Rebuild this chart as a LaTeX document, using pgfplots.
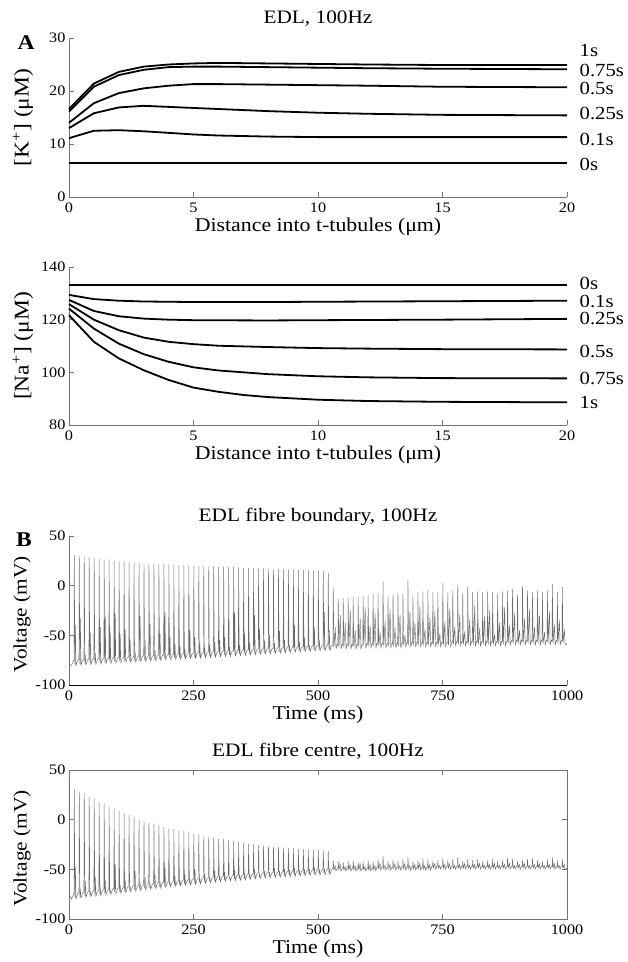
\documentclass[border=0pt]{standalone}
\usepackage{fontspec}
\setmainfont{Liberation Serif}[FakeStretch=1.12]
\usepackage{pgfplots}
\pgfplotsset{compat=1.18}
\definecolor{axgray}{gray}{0.45}
\definecolor{trace}{gray}{0.42}
\tikzset{rl/.style={anchor=west, inner sep=0pt, xshift=12.5pt, font=\fontsize{18.5}{18.5}\selectfont}}
\pgfplotsset{
  base/.style={scale only axis, width=498pt, anchor=south west, clip=false,
    axis line style={axgray, line width=0.6pt, -},
    tick style={axgray, line width=0.6pt},
    major tick length=5pt, tick align=inside,
    tick label style={font=\fontsize{14.5}{14.5}\selectfont, text=black},
    xticklabel style={yshift=-2.5pt},
    every axis title/.style={at={(axis description cs:0.5,1)}, anchor=center, yshift=19pt, font=\fontsize{19}{19}\selectfont},
    every axis x label/.style={at={(axis description cs:0.5,0)}, anchor=center, yshift=-30pt, font=\fontsize{19.5}{19.5}\selectfont},
    every axis y label/.style={at={(axis description cs:-0.0924,0.5)}, anchor=center, rotate=90, font=\fontsize{21}{21}\selectfont},
  },
  conc/.style={base, axis x line*=bottom, axis y line*=left, xmin=0, xmax=20,
    xtick={0,5,10,15,20}, xticklabels={0,5,10,15,20},
    xlabel={Distance into t-tubules (μm)}},
  volt/.style={base, xmin=0, xmax=1000, ymin=-100, ymax=50,
    xtick={0,250,500,750,1000}, xticklabels={0,250,500,750,1000},
    ytick={-100,-50,0,50}, yticklabels={-100,-50,0,50},
    ylabel={Voltage (mV)}, xlabel={Time (ms)},
    every axis y label/.style={at={(axis description cs:-0.0944,0.5)}, anchor=center, yshift=-4pt, rotate=90, font=\fontsize{19}{19}\selectfont}},
  curve/.style={black, line width=1.8pt, line join=round},
  tr/.style={trace, line width=0.45pt, line join=round},
}
\begin{document}
\begin{tikzpicture}
\useasboundingbox (0pt,0pt) rectangle (628pt,962pt);

% ---------- A: K+ ----------
\begin{axis}[conc, at={(69pt,765pt)}, height=159pt, ymin=0, ymax=30,
  ytick={0,10,20,30}, yticklabels={0,10,20,30},
  ylabel={[K\textsuperscript{+}] (μM)}, title={EDL, 100Hz}]
\addplot[curve] coordinates {(0,6.4) (20,6.4)};
\addplot[curve] coordinates {(0,11.1) (1,12.5) (2,12.6) (3,12.4) (4,12.1) (5,11.8) (6,11.6) (8,11.4) (10,11.3) (12,11.3) (15,11.3) (20,11.3)};
\addplot[curve] coordinates {(0,13.0) (1,15.8) (2,16.9) (3,17.2) (4,17.0) (5,16.8) (6,16.6) (8,16.2) (10,15.9) (12,15.7) (15,15.5) (20,15.4)};
\addplot[curve] coordinates {(0,14.0) (1,17.7) (2,19.6) (3,20.5) (4,21.0) (5,21.3) (6,21.3) (8,21.2) (10,21.1) (12,21.0) (15,20.8) (20,20.7)};
\addplot[curve] coordinates {(0,16.1) (1,20.8) (2,23.0) (3,24.0) (4,24.5) (5,24.6) (6,24.6) (8,24.5) (10,24.4) (12,24.3) (15,24.2) (20,24.1)};
\addplot[curve] coordinates {(0,16.6) (1,21.4) (2,23.6) (3,24.6) (4,25.0) (5,25.2) (6,25.3) (8,25.2) (10,25.1) (12,25.0) (15,24.9) (20,24.9)};
\node[rl] at (axis cs:20,27.6) {1s};
\node[rl] at (axis cs:20,23.9) {0.75s};
\node[rl] at (axis cs:20,20.4) {0.5s};
\node[rl] at (axis cs:20,15.85) {0.25s};
\node[rl] at (axis cs:20,10.9) {0.1s};
\node[rl] at (axis cs:20,6.2) {0s};
\end{axis}

% ---------- Na+ ----------
\begin{axis}[conc, at={(69pt,537pt)}, height=158pt, ymin=80, ymax=140,
  ytick={80,100,120,140}, yticklabels={80,100,120,140},
  ylabel={[Na\textsuperscript{+}] (μM)}]
\addplot[curve] coordinates {(0,133.3) (20,133.3)};
\addplot[curve] coordinates {(0,129.4) (1,127.8) (2,127.2) (3,126.9) (5,126.7) (8,126.7) (10,126.8) (15,127.0) (20,127.2)};
\addplot[curve] coordinates {(0,127.5) (1,123.3) (2,121.3) (3,120.4) (4,120.0) (5,119.8) (8,119.7) (10,119.8) (15,120.0) (20,120.3)};
\addplot[curve] coordinates {(0,125.9) (1,120.0) (2,116.0) (3,113.2) (4,111.6) (5,110.7) (6,110.1) (8,109.6) (10,109.2) (12,109.0) (15,108.8) (20,108.7)};
\addplot[curve] coordinates {(0,124.2) (1,116.6) (2,110.9) (3,106.9) (4,104.0) (5,101.9) (6,100.7) (8,99.3) (10,98.5) (12,98.1) (15,97.8) (20,97.7)};
\addplot[curve] coordinates {(0,121.7) (1,111.6) (2,105.3) (3,100.8) (4,97.1) (5,94.2) (6,92.6) (7,91.4) (8,90.6) (10,89.6) (12,89.1) (15,88.8) (20,88.6)};
\node[rl] at (axis cs:20,133.9) {0s};
\node[rl] at (axis cs:20,127.0) {0.1s};
\node[rl] at (axis cs:20,120.4) {0.25s};
\node[rl] at (axis cs:20,107.8) {0.5s};
\node[rl] at (axis cs:20,97.7) {0.75s};
\node[rl] at (axis cs:20,88.6) {1s};
\end{axis}

% ---------- B: fibre boundary ----------
\begin{axis}[volt, at={(69pt,277pt)}, height=149pt,
  axis x line*=bottom, axis y line*=left,
  x axis line style={black, line width=0.8pt},
  title={EDL fibre boundary, 100Hz}]
\addplot[tr] table[row sep=\\]{t v\\
0 -72\\ 2 -80.5\\ 5 -80\\
10 -74.7\\ 10.6 30.5\\ 11.8 -78.7\\ 12.8 -40\\ 14 -80.7\\ 17 -75.7\\
20 -74.4\\ 20.6 30.2\\ 21.8 -78.4\\ 22.8 -33\\ 24 -80.4\\ 27 -75.4\\
30 -74.1\\ 30.6 29.2\\ 31.8 -78.1\\ 32.8 -70\\ 34 -80.1\\ 37 -75.1\\
40 -73.8\\ 40.6 28.5\\ 41.8 -77.8\\ 42.8 -48\\ 44 -79.8\\ 47 -74.8\\
50 -73.5\\ 50.6 27.9\\ 51.8 -77.5\\ 52.8 -68\\ 54 -79.5\\ 57 -74.5\\
60 -73.2\\ 60.6 26.8\\ 61.8 -77.2\\ 62.8 -42\\ 64 -79.2\\ 67 -74.2\\
70 -72.9\\ 70.6 26.2\\ 71.8 -76.9\\ 72.8 -31\\ 74 -78.9\\ 77 -73.9\\
80 -72.6\\ 80.6 25.8\\ 81.8 -76.6\\ 82.8 -47\\ 84 -78.6\\ 87 -73.6\\
90 -72.3\\ 90.6 25.2\\ 91.8 -76.3\\ 92.8 -28\\ 94 -78.3\\ 97 -73.3\\
100 -72.0\\ 100.6 24.5\\ 101.8 -76.0\\ 102.8 -49\\ 104 -78.0\\ 107 -73.0\\
110 -71.7\\ 110.6 24.2\\ 111.8 -75.7\\ 112.8 -44\\ 114 -77.7\\ 117 -72.7\\
120 -71.4\\ 120.6 23.5\\ 121.8 -75.4\\ 122.8 -55\\ 124 -77.4\\ 127 -72.4\\
130 -71.1\\ 130.6 23.5\\ 131.8 -75.1\\ 132.8 -66\\ 134 -77.1\\ 137 -72.1\\
140 -70.8\\ 140.6 22.8\\ 141.8 -74.8\\ 142.8 -31\\ 144 -76.8\\ 147 -71.8\\
150 -70.5\\ 150.6 22.5\\ 151.8 -74.5\\ 152.8 -55\\ 154 -76.5\\ 157 -71.5\\
160 -70.2\\ 160.6 22.1\\ 161.8 -74.2\\ 162.8 -39\\ 164 -76.2\\ 167 -71.2\\
170 -69.9\\ 170.6 21.8\\ 171.8 -73.9\\ 172.8 -65\\ 174 -75.9\\ 177 -70.9\\
180 -69.6\\ 180.6 21.8\\ 181.8 -73.6\\ 182.8 -49\\ 184 -75.6\\ 187 -70.6\\
190 -69.3\\ 190.6 21.5\\ 191.8 -73.3\\ 192.8 -27\\ 194 -75.3\\ 197 -70.3\\
200 -69.0\\ 200.6 21.1\\ 201.8 -73.0\\ 202.8 -52\\ 204 -75.0\\ 207 -70.0\\
210 -68.7\\ 210.6 20.8\\ 211.8 -72.7\\ 212.8 -59\\ 214 -74.7\\ 217 -69.7\\
220 -68.4\\ 220.6 20.8\\ 221.8 -72.4\\ 222.8 -61\\ 224 -74.4\\ 227 -69.4\\
230 -68.1\\ 230.6 20.5\\ 231.8 -72.1\\ 232.8 -64\\ 234 -74.1\\ 237 -69.1\\
240 -67.8\\ 240.6 20.1\\ 241.8 -71.8\\ 242.8 -45\\ 244 -73.8\\ 247 -68.8\\
250 -67.5\\ 250.6 20.1\\ 251.8 -71.5\\ 252.8 -52\\ 254 -73.5\\ 257 -68.5\\
260 -67.2\\ 260.6 19.8\\ 261.8 -71.2\\ 262.8 -59\\ 264 -73.2\\ 267 -68.2\\
270 -66.9\\ 270.6 19.8\\ 271.8 -70.9\\ 272.8 -63\\ 274 -72.9\\ 277 -67.9\\
280 -66.6\\ 280.6 19.5\\ 281.8 -70.6\\ 282.8 -60\\ 284 -72.6\\ 287 -67.6\\
290 -66.3\\ 290.6 19.1\\ 291.8 -70.3\\ 292.8 -57\\ 294 -72.3\\ 297 -67.3\\
300 -66.0\\ 300.6 19.1\\ 301.8 -70.0\\ 302.8 -55\\ 304 -72.0\\ 307 -67.0\\
310 -65.7\\ 310.6 18.8\\ 311.8 -69.7\\ 312.8 -52\\ 314 -71.7\\ 317 -66.7\\
320 -65.4\\ 320.6 18.5\\ 321.8 -69.4\\ 322.8 -62\\ 324 -71.4\\ 327 -66.4\\
330 -65.1\\ 330.6 18.5\\ 331.8 -69.1\\ 332.8 -27\\ 334 -71.1\\ 337 -66.1\\
340 -64.8\\ 340.6 18.1\\ 341.8 -68.8\\ 342.8 -60\\ 344 -70.8\\ 347 -65.8\\
350 -64.5\\ 350.6 17.8\\ 351.8 -68.5\\ 352.8 -49\\ 354 -70.5\\ 357 -65.5\\
360 -64.2\\ 360.6 17.8\\ 361.8 -68.2\\ 362.8 -58\\ 364 -70.2\\ 367 -65.2\\
370 -63.9\\ 370.6 17.4\\ 371.8 -67.9\\ 372.8 -30\\ 374 -69.9\\ 377 -64.9\\
380 -63.6\\ 380.6 17.4\\ 381.8 -67.6\\ 382.8 -44\\ 384 -69.6\\ 387 -64.6\\
390 -63.3\\ 390.6 17.2\\ 391.8 -67.3\\ 392.8 -56\\ 394 -69.3\\ 397 -64.3\\
400 -63.0\\ 400.6 17.0\\ 401.8 -67.0\\ 402.8 -50\\ 404 -69.0\\ 407 -64.0\\
410 -62.7\\ 410.6 16.8\\ 411.8 -66.7\\ 412.8 -58\\ 414 -68.7\\ 417 -63.7\\
420 -62.4\\ 420.6 16.6\\ 421.8 -66.4\\ 422.8 -46\\ 424 -68.4\\ 427 -63.4\\
430 -62.1\\ 430.6 16.4\\ 431.8 -66.1\\ 432.8 -55\\ 434 -68.1\\ 437 -63.1\\
440 -61.8\\ 440.6 16.2\\ 441.8 -65.8\\ 442.8 -60\\ 444 -67.8\\ 447 -62.8\\
450 -61.5\\ 450.6 16.0\\ 451.8 -65.5\\ 452.8 -40\\ 454 -67.5\\ 457 -62.5\\
460 -61.2\\ 460.6 15.8\\ 461.8 -65.2\\ 462.8 -57\\ 464 -67.2\\ 467 -62.2\\
470 -60.9\\ 470.6 15.5\\ 471.8 -64.9\\ 472.8 -52\\ 474 -66.9\\ 477 -61.9\\
480 -60.6\\ 480.6 15.3\\ 481.8 -64.6\\ 482.8 -60\\ 484 -66.6\\ 487 -61.6\\
490 -60.3\\ 490.6 15.2\\ 491.8 -64.3\\ 492.8 -42\\ 494 -66.3\\ 497 -61.3\\
500 -60.0\\ 500.6 15.0\\ 501.8 -64.0\\ 502.8 -55\\ 504 -66.0\\ 507 -61.0\\
510 -59.7\\ 510.6 14.8\\ 511.8 -63.7\\ 512.8 -27\\ 514 -65.7\\ 517 -60.7\\
520 -59.4\\ 520.6 13.5\\ 521.8 -63.4\\ 522.8 -45\\ 524 -65.4\\ 527 -60.4\\
530 -60\\ 530.6 -2\\ 532 -62\\ 534.8 -42\\ 536.2 -64\\ 538.5 -59\\
540 -60\\ 540.6 -13.4\\ 542 -62\\ 544.8 -30\\ 546.2 -64\\ 548.5 -59\\
550 -60\\ 550.6 -12.8\\ 552 -62\\ 554.8 -38\\ 556.2 -64\\ 558.5 -59\\
560 -60\\ 560.6 -12.8\\ 562 -62\\ 564.8 -25\\ 566.2 -64\\ 568.5 -59\\
570 -60\\ 570.6 -11.7\\ 572 -62\\ 574.8 -45\\ 576.2 -64\\ 578.5 -59\\
580 -60\\ 580.6 -11.1\\ 582 -62\\ 584.8 -33\\ 586.2 -64\\ 588.5 -59\\
590 -59\\ 590.6 -10.4\\ 592 -61\\ 594.8 -22\\ 596.2 -63\\ 598.5 -58\\
600 -59\\ 600.6 -10.1\\ 602 -61\\ 604.8 -40\\ 606.2 -63\\ 608.5 -58\\
610 -59\\ 610.6 -8.4\\ 612 -61\\ 614.8 -28\\ 616.2 -63\\ 618.5 -58\\
620 -59\\ 620.6 -7.7\\ 622 -61\\ 624.8 -47\\ 626.2 -63\\ 628.5 -58\\
630 -59\\ 630.6 4.0\\ 632 -61\\ 634.8 -35\\ 636.2 -63\\ 638.5 -58\\
640 -59\\ 640.6 -11.1\\ 642 -61\\ 644.8 -24\\ 646.2 -63\\ 648.5 -58\\
650 -59\\ 650.6 -8.4\\ 652 -61\\ 654.8 -42\\ 656.2 -63\\ 658.5 -58\\
660 -59\\ 660.6 -7.7\\ 662 -61\\ 664.8 -30\\ 666.2 -63\\ 668.5 -58\\
670 -58\\ 670.6 -8.4\\ 672 -60\\ 674.8 -50\\ 676.2 -62\\ 678.5 -57\\
680 -58\\ 680.6 5.7\\ 682 -60\\ 684.8 -27\\ 686.2 -62\\ 688.5 -57\\
690 -58\\ 690.6 -10.1\\ 692 -60\\ 694.8 -38\\ 696.2 -62\\ 698.5 -57\\
700 -58\\ 700.6 -6.7\\ 702 -60\\ 704.8 -21\\ 706.2 -62\\ 708.5 -57\\
710 -58\\ 710.6 -6.0\\ 712 -60\\ 714.8 -44\\ 716.2 -62\\ 718.5 -57\\
720 -58\\ 720.6 -4.4\\ 722 -60\\ 724.8 -32\\ 726.2 -62\\ 728.5 -57\\
730 -58\\ 730.6 -6.7\\ 732 -60\\ 734.8 -26\\ 736.2 -62\\ 738.5 -57\\
740 -58\\ 740.6 -6.7\\ 742 -60\\ 744.8 -48\\ 746.2 -62\\ 748.5 -57\\
750 -58\\ 750.6 2.7\\ 752 -60\\ 754.8 -36\\ 756.2 -62\\ 758.5 -57\\
760 -58\\ 760.6 -6.7\\ 762 -60\\ 764.8 -23\\ 766.2 -62\\ 768.5 -57\\
770 -57\\ 770.6 -5.0\\ 772 -59\\ 774.8 -41\\ 776.2 -61\\ 778.5 -56\\
780 -57\\ 780.6 0.7\\ 782 -59\\ 784.8 -29\\ 786.2 -61\\ 788.5 -56\\
790 -57\\ 790.6 -8.4\\ 792 -59\\ 794.8 -46\\ 796.2 -61\\ 798.5 -56\\
800 -57\\ 800.6 -1.7\\ 802 -59\\ 804.8 -34\\ 806.2 -61\\ 808.5 -56\\
810 -57\\ 810.6 -6.7\\ 812 -59\\ 814.8 -20\\ 816.2 -61\\ 818.5 -56\\
820 -57\\ 820.6 -6.0\\ 822 -59\\ 824.8 -43\\ 826.2 -61\\ 828.5 -56\\
830 -57\\ 830.6 -6.7\\ 832 -59\\ 834.8 -31\\ 836.2 -61\\ 838.5 -56\\
840 -57\\ 840.6 -6.0\\ 842 -59\\ 844.8 -25\\ 846.2 -61\\ 848.5 -56\\
850 -57\\ 850.6 -6.7\\ 852 -59\\ 854.8 -49\\ 856.2 -61\\ 858.5 -56\\
860 -57\\ 860.6 -8.4\\ 862 -59\\ 864.8 -37\\ 866.2 -61\\ 868.5 -56\\
870 -57\\ 870.6 -6.0\\ 872 -59\\ 874.8 -22\\ 876.2 -61\\ 878.5 -56\\
880 -56\\ 880.6 -5.0\\ 882 -58\\ 884.8 -40\\ 886.2 -60\\ 888.5 -55\\
890 -56\\ 890.6 -3.4\\ 892 -58\\ 894.8 -28\\ 896.2 -60\\ 898.5 -55\\
900 -56\\ 900.6 -8.4\\ 902 -58\\ 904.8 -45\\ 906.2 -60\\ 908.5 -55\\
910 -56\\ 910.6 0.0\\ 912 -58\\ 914.8 -33\\ 916.2 -60\\ 918.5 -55\\
920 -56\\ 920.6 -5.0\\ 922 -58\\ 924.8 -24\\ 926.2 -60\\ 928.5 -55\\
930 -56\\ 930.6 -6.7\\ 932 -58\\ 934.8 -42\\ 936.2 -60\\ 938.5 -55\\
940 -56\\ 940.6 -5.0\\ 942 -58\\ 944.8 -30\\ 946.2 -60\\ 948.5 -55\\
950 -56\\ 950.6 -6.7\\ 952 -58\\ 954.8 -47\\ 956.2 -60\\ 958.5 -55\\
960 -56\\ 960.6 -5.0\\ 962 -58\\ 964.8 -26\\ 966.2 -60\\ 968.5 -55\\
970 -56\\ 970.6 1.7\\ 972 -58\\ 974.8 -39\\ 976.2 -60\\ 978.5 -55\\
980 -56\\ 980.6 -6.7\\ 982 -58\\ 984.8 -35\\ 986.2 -60\\ 988.5 -55\\
990 -56\\ 990.6 -1.7\\ 992 -58\\ 994.8 -44\\ 996.2 -60\\ 1000 -58\\
};
\end{axis}

% ---------- C: fibre centre ----------
\begin{axis}[volt, at={(69pt,43pt)}, height=149pt,
  title={EDL fibre centre, 100Hz}]
\addplot[tr] table[row sep=\\]{t v\\
0 42\\ 1.5 -76\\ 5 -80\\
10 -74\\ 10.6 30.5\\ 11.8 -78\\ 12.8 -48\\ 14 -80\\ 17 -75\\
20 -73.3\\ 20.6 27.9\\ 21.8 -77.3\\ 22.8 -70\\ 24 -79.3\\ 27 -74.3\\
30 -72.6\\ 30.6 26.2\\ 31.8 -76.6\\ 32.8 -62\\ 34 -78.6\\ 37 -73.6\\
40 -71.9\\ 40.6 22.8\\ 41.8 -75.9\\ 42.8 -72\\ 44 -77.9\\ 47 -72.9\\
50 -71.3\\ 50.6 21.1\\ 51.8 -75.3\\ 52.8 -58\\ 54 -77.3\\ 57 -72.3\\
60 -70.7\\ 60.6 17.8\\ 61.8 -74.7\\ 62.8 -68\\ 64 -76.7\\ 67 -71.7\\
70 -70.1\\ 70.6 16.1\\ 71.8 -74.1\\ 72.8 -61\\ 74 -76.1\\ 77 -71.1\\
80 -69.5\\ 80.6 12.8\\ 81.8 -73.5\\ 82.8 -70\\ 84 -75.5\\ 87 -70.5\\
90 -69\\ 90.6 11.1\\ 91.8 -73\\ 92.8 -45\\ 94 -75\\ 97 -70\\
100 -68.5\\ 100.6 8.7\\ 101.8 -72.5\\ 102.8 -66\\ 104 -74.5\\ 107 -69.5\\
110 -67.8\\ 110.6 6\\ 111.8 -71.8\\ 112.8 -60\\ 114 -73.8\\ 117 -68.8\\
120 -67.1\\ 120.6 4.4\\ 121.8 -71.1\\ 122.8 -67\\ 124 -73.1\\ 127 -68.1\\
130 -66.4\\ 130.6 2.7\\ 131.8 -70.4\\ 132.8 -52\\ 134 -72.4\\ 137 -67.4\\
140 -65.7\\ 140.6 0.3\\ 141.8 -69.7\\ 142.8 -64\\ 144 -71.7\\ 147 -66.7\\
150 -65\\ 150.6 -0.7\\ 151.8 -69\\ 152.8 -58\\ 154 -71\\ 157 -66\\
160 -64.4\\ 160.6 -3\\ 161.8 -68.4\\ 162.8 -65\\ 164 -70.4\\ 167 -65.4\\
170 -63.8\\ 170.6 -4\\ 171.8 -67.8\\ 172.8 -56\\ 174 -69.8\\ 177 -64.8\\
180 -63.2\\ 180.6 -5.7\\ 181.8 -67.2\\ 182.8 -62\\ 184 -69.2\\ 187 -64.2\\
190 -62.6\\ 190.6 -7.4\\ 191.8 -66.6\\ 192.8 -49\\ 194 -68.6\\ 197 -63.6\\
200 -62\\ 200.6 -9.1\\ 201.8 -66\\ 202.8 -63\\ 204 -68\\ 207 -63\\
210 -61.5\\ 210.6 -9.7\\ 211.8 -65.5\\ 212.8 -57\\ 214 -67.5\\ 217 -62.5\\
220 -61\\ 220.6 -10.7\\ 221.8 -65\\ 222.8 -61\\ 224 -67\\ 227 -62\\
230 -60.5\\ 230.6 -11.7\\ 231.8 -64.5\\ 232.8 -55\\ 234 -66.5\\ 237 -61.5\\
240 -60\\ 240.6 -13.1\\ 241.8 -64\\ 242.8 -60\\ 244 -66\\ 247 -61\\
250 -59.4\\ 250.6 -14.1\\ 251.8 -63.4\\ 252.8 -50\\ 254 -65.4\\ 257 -60.4\\
260 -58.9\\ 260.6 -15.1\\ 261.8 -62.9\\ 262.8 -59\\ 264 -64.9\\ 267 -59.9\\
270 -58.4\\ 270.6 -16.4\\ 271.8 -62.4\\ 272.8 -55\\ 274 -64.4\\ 277 -59.4\\
280 -57.9\\ 280.6 -17.4\\ 281.8 -61.9\\ 282.8 -58\\ 284 -63.9\\ 287 -58.9\\
290 -57.3\\ 290.6 -18.5\\ 291.8 -61.3\\ 292.8 -52\\ 294 -63.3\\ 297 -58.3\\
300 -56.8\\ 300.6 -19.1\\ 301.8 -60.8\\ 302.8 -57\\ 304 -62.8\\ 307 -57.8\\
310 -56.4\\ 310.6 -19.8\\ 311.8 -60.4\\ 312.8 -53\\ 314 -62.4\\ 317 -57.4\\
320 -56\\ 320.6 -20.8\\ 321.8 -60\\ 322.8 -58\\ 324 -62\\ 327 -57\\
330 -55.6\\ 330.6 -21.8\\ 331.8 -59.6\\ 332.8 -51\\ 334 -61.6\\ 337 -56.6\\
340 -55.2\\ 340.6 -22.5\\ 341.8 -59.2\\ 342.8 -56\\ 344 -61.2\\ 347 -56.2\\
350 -54.8\\ 350.6 -23.2\\ 351.8 -58.8\\ 352.8 -54\\ 354 -60.8\\ 357 -55.8\\
360 -54.4\\ 360.6 -24.2\\ 361.8 -58.4\\ 362.8 -55\\ 364 -60.4\\ 367 -55.4\\
370 -54\\ 370.6 -24.8\\ 371.8 -58\\ 372.8 -50\\ 374 -60\\ 377 -55\\
380 -53.6\\ 380.6 -25.8\\ 381.8 -57.6\\ 382.8 -55\\ 384 -59.6\\ 387 -54.6\\
390 -53.2\\ 390.6 -26.3\\ 391.8 -57.2\\ 392.8 -52\\ 394 -59.2\\ 397 -54.2\\
400 -52.9\\ 400.6 -26.8\\ 401.8 -56.9\\ 402.8 -53\\ 404 -58.9\\ 407 -53.9\\
410 -52.6\\ 410.6 -27.3\\ 411.8 -56.6\\ 412.8 -49\\ 414 -58.6\\ 417 -53.6\\
420 -52.3\\ 420.6 -27.8\\ 421.8 -56.3\\ 422.8 -52\\ 424 -58.3\\ 427 -53.3\\
430 -52\\ 430.6 -28.2\\ 431.8 -56\\ 432.8 -50\\ 434 -58\\ 437 -53\\
440 -51.7\\ 440.6 -28.6\\ 441.8 -55.7\\ 442.8 -51\\ 444 -57.7\\ 447 -52.7\\
450 -51.4\\ 450.6 -29\\ 451.8 -55.4\\ 452.8 -49\\ 454 -57.4\\ 457 -52.4\\
460 -51.1\\ 460.6 -29.4\\ 461.8 -55.1\\ 462.8 -51\\ 464 -57.1\\ 467 -52.1\\
470 -50.8\\ 470.6 -29.8\\ 471.8 -54.8\\ 472.8 -50\\ 474 -56.8\\ 477 -51.8\\
480 -50.5\\ 480.6 -30.2\\ 481.8 -54.5\\ 482.8 -50\\ 484 -56.5\\ 487 -51.5\\
490 -50.2\\ 490.6 -30.5\\ 491.8 -54.2\\ 492.8 -48\\ 494 -56.2\\ 497 -51.2\\
500 -50\\ 500.6 -30.8\\ 501.8 -54\\ 502.8 -50\\ 504 -56\\ 507 -51\\
510 -49.8\\ 510.6 -31.1\\ 511.8 -53.8\\ 512.8 -49\\ 514 -55.8\\ 517 -50.8\\
520 -49.5\\ 520.6 -32\\ 521.8 -53.5\\ 522.8 -49\\ 524 -55.5\\ 527 -50.5\\
530 -49\\ 530.6 -41\\ 532 -51\\ 534.5 -46\\ 536 -52\\ 538.5 -49\\
540 -49\\ 540.6 -42\\ 542 -51\\ 544.5 -44\\ 546 -52\\ 548.5 -49\\
550 -49\\ 550.6 -43\\ 552 -51\\ 554.5 -47\\ 556 -52\\ 558.5 -49\\
560 -49\\ 560.6 -42\\ 562 -51\\ 564.5 -45\\ 566 -52\\ 568.5 -49\\
570 -49\\ 570.6 -41\\ 572 -51\\ 574.5 -46\\ 576 -52\\ 578.5 -49\\
580 -49\\ 580.6 -43\\ 582 -51\\ 584.5 -44\\ 586 -52\\ 588.5 -49\\
590 -49\\ 590.6 -42\\ 592 -51\\ 594.5 -47\\ 596 -52\\ 598.5 -49\\
600 -49\\ 600.6 -41\\ 602 -51\\ 604.5 -45\\ 606 -52\\ 608.5 -49\\
610 -49\\ 610.6 -42\\ 612 -51\\ 614.5 -46\\ 616 -52\\ 618.5 -48\\
620 -48\\ 620.6 -40\\ 622 -50\\ 624.5 -44\\ 626 -51\\ 628.5 -48\\
630 -48\\ 630.6 -37\\ 632 -50\\ 634.5 -46\\ 636 -51\\ 638.5 -48\\
640 -48\\ 640.6 -42\\ 642 -50\\ 644.5 -45\\ 646 -51\\ 648.5 -48\\
650 -48\\ 650.6 -41\\ 652 -50\\ 654.5 -44\\ 656 -51\\ 658.5 -48\\
660 -48\\ 660.6 -42\\ 662 -50\\ 664.5 -46\\ 666 -51\\ 668.5 -48\\
670 -48\\ 670.6 -40\\ 672 -50\\ 674.5 -44\\ 676 -51\\ 678.5 -48\\
680 -48\\ 680.6 -38\\ 682 -50\\ 684.5 -46\\ 686 -51\\ 688.5 -48\\
690 -48\\ 690.6 -42\\ 692 -50\\ 694.5 -45\\ 696 -51\\ 698.5 -48\\
700 -48\\ 700.6 -41\\ 702 -50\\ 704.5 -44\\ 706 -51\\ 708.5 -48\\
710 -48\\ 710.6 -39\\ 712 -50\\ 714.5 -46\\ 716 -51\\ 718.5 -48\\
720 -48\\ 720.6 -40\\ 722 -50\\ 724.5 -45\\ 726 -51\\ 728.5 -47\\
730 -47\\ 730.6 -42\\ 732 -49\\ 734.5 -44\\ 736 -50\\ 738.5 -47\\
740 -47\\ 740.6 -41\\ 742 -49\\ 744.5 -46\\ 746 -50\\ 748.5 -47\\
750 -47\\ 750.6 -39\\ 752 -49\\ 754.5 -45\\ 756 -50\\ 758.5 -47\\
760 -47\\ 760.6 -41\\ 762 -49\\ 764.5 -44\\ 766 -50\\ 768.5 -47\\
770 -47\\ 770.6 -40\\ 772 -49\\ 774.5 -46\\ 776 -50\\ 778.5 -47\\
780 -47\\ 780.6 -38\\ 782 -49\\ 784.5 -45\\ 786 -50\\ 788.5 -47\\
790 -47\\ 790.6 -42\\ 792 -49\\ 794.5 -44\\ 796 -50\\ 798.5 -47\\
800 -47\\ 800.6 -40\\ 802 -49\\ 804.5 -46\\ 806 -50\\ 808.5 -47\\
810 -47\\ 810.6 -41\\ 812 -49\\ 814.5 -45\\ 816 -50\\ 818.5 -47\\
820 -47\\ 820.6 -40\\ 822 -49\\ 824.5 -44\\ 826 -50\\ 828.5 -47\\
830 -47\\ 830.6 -42\\ 832 -49\\ 834.5 -46\\ 836 -50\\ 838.5 -47\\
840 -47\\ 840.6 -41\\ 842 -49\\ 844.5 -45\\ 846 -50\\ 848.5 -47\\
850 -47\\ 850.6 -40\\ 852 -49\\ 854.5 -44\\ 856 -50\\ 858.5 -47\\
860 -47\\ 860.6 -42\\ 862 -49\\ 864.5 -46\\ 866 -50\\ 868.5 -47\\
870 -47\\ 870.6 -41\\ 872 -49\\ 874.5 -45\\ 876 -50\\ 878.5 -47\\
880 -47\\ 880.6 -39\\ 882 -49\\ 884.5 -44\\ 886 -50\\ 888.5 -47\\
890 -47\\ 890.6 -40\\ 892 -49\\ 894.5 -46\\ 896 -50\\ 898.5 -47\\
900 -47\\ 900.6 -42\\ 902 -49\\ 904.5 -45\\ 906 -50\\ 908.5 -47\\
910 -47\\ 910.6 -41\\ 912 -49\\ 914.5 -44\\ 916 -50\\ 918.5 -47\\
920 -47\\ 920.6 -40\\ 922 -49\\ 924.5 -46\\ 926 -50\\ 928.5 -47\\
930 -47\\ 930.6 -39\\ 932 -49\\ 934.5 -45\\ 936 -50\\ 938.5 -47\\
940 -47\\ 940.6 -41\\ 942 -49\\ 944.5 -44\\ 946 -50\\ 948.5 -47\\
950 -47\\ 950.6 -42\\ 952 -49\\ 954.5 -46\\ 956 -50\\ 958.5 -47\\
960 -47\\ 960.6 -40\\ 962 -49\\ 964.5 -45\\ 966 -50\\ 968.5 -47\\
970 -47\\ 970.6 -38\\ 972 -49\\ 974.5 -44\\ 976 -50\\ 978.5 -47\\
980 -47\\ 980.6 -41\\ 982 -49\\ 984.5 -46\\ 986 -50\\ 988.5 -47\\
990 -47\\ 990.6 -40\\ 992 -49\\ 994.5 -45\\ 996 -50\\ 1000 -49\\
};
\end{axis}

\node[font=\bfseries\fontsize{21}{21}\selectfont] at (26pt,919pt) {A};
\node[font=\bfseries\fontsize{21}{21}\selectfont] at (24pt,422pt) {B};
\end{tikzpicture}
\end{document}
